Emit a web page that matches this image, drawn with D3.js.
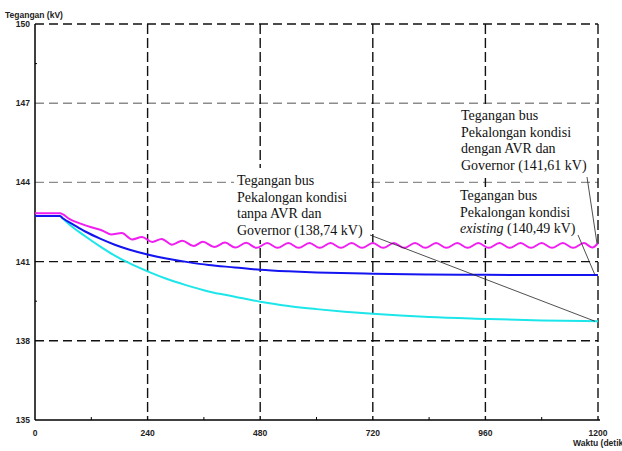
<!DOCTYPE html>
<html>
<head>
<meta charset="utf-8">
<script src="https://cdn.jsdelivr.net/npm/d3@7"></script>
<style>
  body { margin: 0; background: #fff; }
  svg { display: block; }
</style>
</head>
<body>
<div id="chart"></div>
<script>
// sumbu
var xTicks = [0, 240, 480, 720, 960, 1200];
var xMinor = [120, 360, 600, 840, 1080];
var yTicks = [135, 138, 141, 144, 147, 150];
var yMinor = [139.5, 148.5];

// tegangan bus Pekalongan kondisi existing (biru)
var existT = [0, 53, 60, 80, 107, 140, 170, 200, 240, 280, 326, 370, 426, 480, 540, 600, 720, 840, 960, 1080, 1200];
var existV = [142.73, 142.73, 142.63, 142.42, 142.14, 141.86, 141.64, 141.46, 141.27, 141.12, 140.98, 140.87, 140.78, 140.69, 140.63, 140.59, 140.54, 140.51, 140.5, 140.49, 140.49];

// tanpa AVR dan Governor (cyan)
var tanpaT = [0, 53, 60, 80, 107, 140, 170, 200, 240, 280, 320, 370, 426, 480, 540, 600, 660, 720, 840, 960, 1080, 1200];
var tanpaV = [142.73, 142.73, 142.62, 142.31, 141.96, 141.56, 141.23, 140.95, 140.63, 140.35, 140.12, 139.87, 139.67, 139.48, 139.32, 139.2, 139.1, 139.02, 138.9, 138.83, 138.77, 138.74];

// dengan AVR dan Governor (magenta)
var denganT = [0, 53, 75, 100, 120, 143, 162, 185, 207, 228, 250, 270, 292, 314, 338, 358, 382, 405,
  427, 450, 472, 495, 517, 540, 562, 585, 607, 630, 652, 675, 697, 720, 742, 765, 787, 810, 832, 855,
  877, 900, 922, 945, 967, 990, 1012, 1035, 1057, 1080, 1102, 1125, 1147, 1170, 1188, 1200];
var denganV = [142.83, 142.83, 142.6, 142.42, 142.3, 142.18, 142.03, 142.08, 141.84, 141.93, 141.74, 141.86, 141.64, 141.79, 141.59, 141.75, 141.55, 141.72,
  141.53, 141.71, 141.52, 141.7, 141.52, 141.7, 141.52, 141.7, 141.52, 141.7, 141.52, 141.7, 141.52, 141.7, 141.52, 141.7, 141.52, 141.7, 141.52, 141.7,
  141.52, 141.7, 141.52, 141.7, 141.52, 141.7, 141.52, 141.7, 141.52, 141.7, 141.52, 141.7, 141.52, 141.7, 141.53, 141.7];

var W = 622, H = 451;
var svg = d3.select('#chart').append('svg').attr('width', W).attr('height', H);

var x = d3.scaleLinear().domain([0, 1200]).range([35, 598]),
  y = d3.scaleLinear().domain([135, 150]).range([420, 24]);

function zip(t, v) {
  return t.map(function(d, i) { return { t: d, v: v[i] }; });
}

//garis grid horizontal
var hGrid = svg.append('g');
yTicks.filter(function(d) { return d > 135; }).forEach(function(d) {
  hGrid.append('line')
    .attr('x1', x(0)).attr('x2', x(1200))
    .attr('y1', y(d)).attr('y2', y(d))
    .attr('stroke', (d === 147 || d === 144) ? '#8c8c8c' : '#111')
    .attr('stroke-width', 1.4)
    .attr('stroke-dasharray', '9 5');
});

//garis grid vertikal
var vGrid = svg.append('g');
xTicks.filter(function(d) { return d > 0; }).forEach(function(d) {
  vGrid.append('line')
    .attr('x1', x(d)).attr('x2', x(d))
    .attr('y1', y(150)).attr('y2', y(135))
    .attr('stroke', '#111')
    .attr('stroke-width', 1.4)
    .attr('stroke-dasharray', '10 4');
});

// kotak putih di belakang keterangan
var boxes = [[234, 168, 132, 72], [457, 106, 134, 72], [457, 187, 134, 53]];
boxes.forEach(function(b) {
  svg.append('rect').attr('x', b[0]).attr('y', b[1]).attr('width', b[2]).attr('height', b[3]).attr('fill', '#fff');
});

// sumbu
svg.append('line').attr('x1', x(0)).attr('x2', x(0)).attr('y1', y(150)).attr('y2', y(135))
  .attr('stroke', '#000').attr('stroke-width', 1.5);
svg.append('line').attr('x1', x(0)).attr('x2', x(1200) + 2).attr('y1', y(135)).attr('y2', y(135))
  .attr('stroke', '#000').attr('stroke-width', 1.5);

xMinor.forEach(function(d) {
  svg.append('line').attr('x1', x(d)).attr('x2', x(d)).attr('y1', y(135)).attr('y2', y(135) - 3)
    .attr('stroke', '#000').attr('stroke-width', 1);
});
yMinor.forEach(function(d) {
  svg.append('line').attr('x1', x(0)).attr('x2', x(0) + 2).attr('y1', y(d)).attr('y2', y(d))
    .attr('stroke', '#000').attr('stroke-width', 1);
});

var tickFont = '"Liberation Sans", Arial, sans-serif';
svg.append('g').selectAll('text').data(yTicks).enter().append('text')
  .attr('x', 30).attr('y', function(d) { return y(d) + 3; })
  .attr('text-anchor', 'end')
  .style('font-family', tickFont).style('font-size', '8.5px').style('font-weight', 'bold').style('fill', '#222')
  .text(function(d) { return d; });

svg.append('g').selectAll('text').data(xTicks).enter().append('text')
  .attr('x', function(d) { return x(d); }).attr('y', 436)
  .attr('text-anchor', 'middle')
  .style('font-family', tickFont).style('font-size', '8.5px').style('font-weight', 'bold').style('fill', '#222')
  .text(function(d) { return d; });

svg.append('text').attr('x', 5).attr('y', 18)
  .style('font-family', tickFont).style('font-size', '8.5px').style('font-weight', 'bold').style('fill', '#222')
  .text('Tegangan (kV)');
svg.append('text').attr('x', 573).attr('y', 446)
  .style('font-family', tickFont).style('font-size', '8.5px').style('font-weight', 'bold').style('fill', '#222')
  .text('Waktu (detik');

// kurva
var line = d3.line()
  .x(function(d) { return x(d.t); })
  .y(function(d) { return y(d.v); })
  .curve(d3.curveMonotoneX);

var series = [
  { data: zip(tanpaT, tanpaV), color: '#1de6ea' },
  { data: zip(existT, existV), color: '#1414f0' },
  { data: zip(denganT, denganV), color: '#f01ef0' }
];
series.forEach(function(s) {
  svg.append('path').datum(s.data)
    .attr('d', line)
    .attr('fill', 'none')
    .attr('stroke', s.color)
    .attr('stroke-width', 2);
});

// garis penunjuk
var leaders = [
  [370, 235, x(1200) - 3, y(138.74)],
  [587, 177, x(1200) - 1, y(141.68)],
  [578, 235, x(1200) - 3, y(140.49)]
];
leaders.forEach(function(l) {
  svg.append('line').attr('x1', l[0]).attr('y1', l[1]).attr('x2', l[2]).attr('y2', l[3])
    .attr('stroke', '#222').attr('stroke-width', 0.8);
});

// keterangan
var serif = '"Liberation Serif", "Times New Roman", serif';
function label(px, py, lines) {
  var t = svg.append('text').style('font-family', serif).style('font-size', '14px').style('fill', '#111');
  lines.forEach(function(ln, i) {
    var ts = t.append('tspan').attr('x', px).attr('y', py + i * 16.5);
    ln.forEach(function(part) {
      ts.append('tspan').style('font-style', part.i ? 'italic' : 'normal').text(part.s);
    });
  });
}
label(237, 185, [[{ s: 'Tegangan bus' }], [{ s: 'Pekalongan kondisi' }], [{ s: 'tanpa AVR dan' }], [{ s: 'Governor (138,74 kV)' }]]);
label(461, 120, [[{ s: 'Tegangan bus' }], [{ s: 'Pekalongan kondisi' }], [{ s: 'dengan AVR dan' }], [{ s: 'Governor (141,61 kV)' }]]);
label(460, 200, [[{ s: 'Tegangan bus' }], [{ s: 'Pekalongan kondisi' }], [{ s: 'existing', i: true }, { s: ' (140,49 kV)' }]]);
</script>
</body>
</html>
